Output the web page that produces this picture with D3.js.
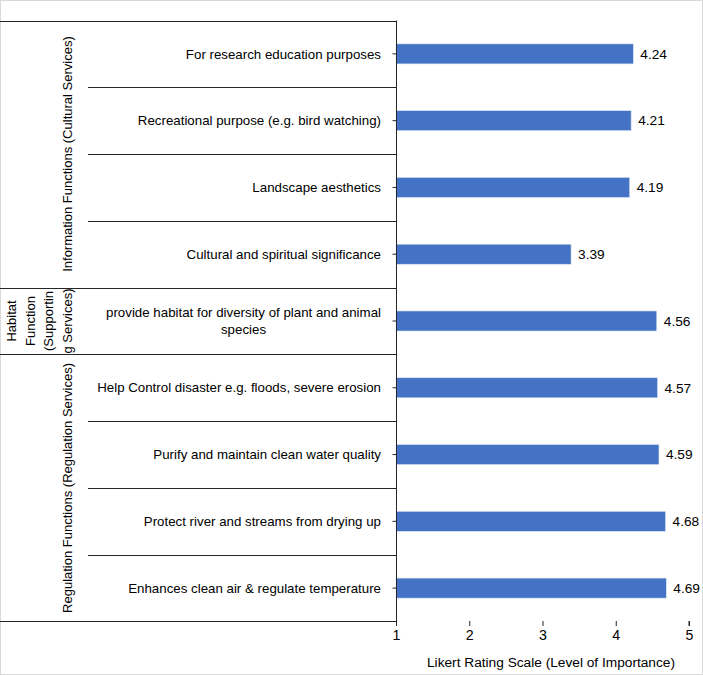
<!DOCTYPE html>
<html><head><meta charset="utf-8">
<script src="https://cdn.jsdelivr.net/npm/d3@7"></script>
<style>
html,body{margin:0;padding:0;background:#fff;}
text{font-family:"Liberation Sans",Arial,sans-serif;fill:#000;}
</style></head>
<body><svg id="chart" width="703" height="675"></svg>
<script>
const categories = [
  "For research education purposes",
  "Recreational purpose (e.g. bird watching)",
  "Landscape aesthetics",
  "Cultural and spiritual significance",
  "provide habitat for diversity of plant and animal species",
  "Help Control disaster e.g. floods, severe erosion",
  "Purify and maintain clean water quality",
  "Protect river and streams from drying up",
  "Enhances clean air & regulate temperature"
];
const values = [4.24, 4.21, 4.19, 3.39, 4.56, 4.57, 4.59, 4.68, 4.69];
const groupNames = [
  ["Information Functions (Cultural Services)"],
  ["Habitat", "Function", "(Supportin", "g Services)"],
  ["Regulation Functions (Regulation Services)"]
];
const groupSizes = [4, 1, 4];
const xTicks = [1, 2, 3, 4, 5];
const xTitle = "Likert Rating Scale (Level of Importance)";

const svg = d3.select("#chart");
const W = 703, H = 675;
const plotL = 396, plotR = 689, plotT = 20.5, plotB = 621.5;
const catLeft = 88;
const fs = 13.3;
const gfs = 13;

svg.append("rect").attr("x",0.5).attr("y",0.5).attr("width",W-1).attr("height",H-1)
  .attr("fill","#fff").attr("stroke","#d9d9d9");

const x = d3.scaleLinear().domain([1,5]).range([plotL, plotR]);
const y = d3.scaleBand().domain(d3.range(categories.length)).range([plotT, plotB]).paddingInner(0.7).paddingOuter(0.35);
const band = d3.scaleBand().domain(d3.range(categories.length)).range([plotT, plotB]);

// bars
svg.selectAll("rect.bar").data(values).join("rect").attr("class","bar")
  .attr("x", x(1)).attr("y",(d,i)=>y(i)).attr("width",d=>x(d)-x(1)).attr("height",y.bandwidth())
  .attr("fill","#4472C4").attr("stroke","#dbe4f3").attr("stroke-width",0.6);

// value labels
svg.selectAll("text.val").data(values).join("text").attr("class","val")
  .attr("x",d=>x(d)+7).attr("y",(d,i)=>y(i)+y.bandwidth()/2).attr("dy","0.35em")
  .attr("font-size",13.7).text(d=>d.toFixed(2));

// category separators
const lineColor = "#262626";
const groupStarts = [];
let acc = 0;
groupSizes.forEach(s=>{groupStarts.push(acc); acc+=s;});
for (let i=0;i<=categories.length;i++){
  const isGroup = i===0 || i===categories.length || groupStarts.includes(i);
  const yy = Math.round(i===categories.length? plotB : band(i)) + 0.5 - (i===categories.length?1:0);
  svg.append("line").attr("x1", isGroup?0:catLeft).attr("x2", plotL)
    .attr("y1",yy).attr("y2",yy).attr("stroke",lineColor).attr("stroke-width",1);
}

// x axis
const xAxis = d3.axisBottom(x).tickValues(xTicks).tickSize(5).tickPadding(4).tickFormat(d3.format("d"));
const gx = svg.append("g").attr("transform",`translate(0,${plotB-0.5})`).call(xAxis);
gx.select(".domain").remove();
gx.selectAll(".tick line").attr("stroke",lineColor);
gx.selectAll(".tick text").attr("font-size",14.2).attr("font-family","Liberation Sans, Arial, sans-serif").attr("fill","#000");
svg.append("line").attr("x1",plotR).attr("x2",plotR).attr("y1",plotB-0.5).attr("y2",plotB+4.5).attr("stroke",lineColor);

// y axis line + ticks
const yAxis = d3.axisLeft(band).tickSize(4).tickFormat("");
const gy = svg.append("g").attr("transform",`translate(${plotL+0.5},0)`).call(yAxis);
gy.select(".domain").attr("stroke",lineColor).attr("d",`M0,${plotT}V${plotB-0.5}`);
gy.selectAll(".tick line").attr("stroke",lineColor);

// category labels
const labelRight = 381;
const maxW = 300;
categories.forEach((c,i)=>{
  const t = svg.append("text").attr("font-size",fs).attr("text-anchor","middle");
  const words = c.split(" ");
  const lines = [];
  let cur = [];
  const tmp = svg.append("text").attr("font-size",fs);
  words.forEach(w=>{
    cur.push(w);
    tmp.text(cur.join(" "));
    if (tmp.node().getComputedTextLength()>maxW && cur.length>1){
      cur.pop(); lines.push(cur.join(" ")); cur=[w];
    }
  });
  lines.push(cur.join(" "));
  let bw = 0;
  lines.forEach(l=>{tmp.text(l); bw=Math.max(bw,tmp.node().getComputedTextLength());});
  tmp.remove();
  const cx = labelRight - bw/2;
  const cy = band(i)+band.bandwidth()/2;
  const lh = 17.5;
  lines.forEach((l,k)=>{
    t.append("tspan").attr("x",cx).attr("y",cy+(k-(lines.length-1)/2)*lh).attr("dy","0.35em").text(l);
  });
});

// group labels
groupNames.forEach((g,gi)=>{
  const s = groupStarts[gi], n = groupSizes[gi];
  const cy = (band(s) + band(s+n-1)+band.bandwidth())/2;
  const lh = 18.5;
  const lastX = 67;
  const t = svg.append("text").attr("font-size",gfs).attr("text-anchor","middle")
    .attr("transform",`translate(0,${cy}) rotate(-90)`);
  g.forEach((l,k)=>{
    t.append("tspan").attr("x",0).attr("y",lastX-(g.length-1-k)*lh).attr("dy","0.35em").text(l);
  });
});

// x title
svg.append("text").attr("x",551).attr("y",662).attr("dy","0.35em").attr("text-anchor","middle")
  .attr("font-size",13.7).text(xTitle);
</script></body></html>
